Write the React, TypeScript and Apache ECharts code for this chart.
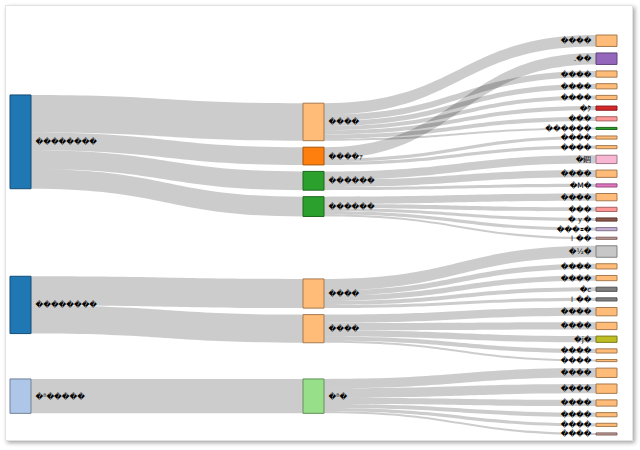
import React, { useEffect, useRef } from "react";
import * as echarts from "echarts";

// Node ids (unique), their displayed labels and colours
const nodeIds = [
  "L1", "L2", "L3",
  "M1", "M2", "M3", "M4", "M5", "M6", "M7",
  "R1", "R2", "R3", "R4", "R5", "R6", "R7", "R8", "R9", "R10",
  "R11", "R12", "R13", "R14", "R15", "R16", "R17", "R18",
  "R19", "R20", "R21", "R22", "R23", "R24", "R25", "R26", "R27", "R28",
  "R29", "R30", "R31", "R32", "R33", "R34",
];

const nodeLabels = [
  "��������", "��������", "�ᴮ�����",
  "����", "����ｧ", "������", "������", "����", "����", "�ᴮ�",
  "����", ".��", "����", "������", "����", "����", "�ｸ", "���", "����", "����",
  "����", "�錮", "�M�", "����", "���", "�ｙ�", "���ｪ�", "ｌ��",
  "�½�", "����", "����", "�c", "ｌ��", "����", "����", "�j�", "����", "����",
  "����", "����", "����", "����", "����", "����",
];

const nodeColors = [
  "#1f77b4", "#1f77b4", "#aec7e8",
  "#ffbb78", "#ff7f0e", "#2ca02c", "#2ca02c", "#ffbb78", "#ffbb78", "#98df8a",
  "#ffbb78", "#9467bd", "#ffbb78", "#2ca02c", "#ffbb78", "#ffbb78", "#d62728", "#ff9896", "#ffbb78", "#ffbb78",
  "#ffbb78", "#f7b6d2", "#e377c2", "#ffbb78", "#ff9896", "#8c564b", "#c5b0d5", "#c49c94",
  "#c7c7c7", "#ffbb78", "#ffbb78", "#7f7f7f", "#7f7f7f", "#ffbb78", "#ffbb78", "#bcbd22", "#ffbb78", "#ffbb78",
  "#ffbb78", "#ffbb78", "#ffbb78", "#ffbb78", "#ffbb78", "#c49c94",
];

// Links
const linkSources = [
  "L1", "L1", "L1", "L1",
  "L2", "L2",
  "L3",
  "M1", "M1", "M1", "M1", "M1", "M1", "M1",
  "M2", "M2", "M2",
  "M3", "M3", "M3",
  "M4", "M4", "M4", "M4", "M4",
  "M5", "M5", "M5", "M5", "M5",
  "M6", "M6", "M6", "M6", "M6",
  "M7", "M7", "M7", "M7", "M7", "M7",
];
const linkTargets = [
  "M1", "M2", "M3", "M4",
  "M5", "M6",
  "M7",
  "R1", "R3", "R4", "R5", "R6", "R7", "R8",
  "R2", "R9", "R10",
  "R11", "R12", "R13",
  "R14", "R15", "R16", "R17", "R18",
  "R19", "R20", "R21", "R22", "R23",
  "R24", "R25", "R26", "R27", "R28",
  "R29", "R30", "R31", "R32", "R33", "R34",
];
const linkValues = [
  36, 17, 18, 19,
  28, 27,
  33,
  11, 4, 2, 5, 6, 4, 4,
  11, 3, 3,
  7, 8, 3,
  7, 4, 3, 3, 2,
  11, 5, 5, 4, 3,
  8, 7, 6, 4, 2,
  9, 9, 6, 4, 3, 2,
];

function darken(hex: string, k: number): string {
  const n = parseInt(hex.slice(1), 16);
  const r = Math.round(((n >> 16) & 255) * k);
  const g = Math.round(((n >> 8) & 255) * k);
  const b = Math.round((n & 255) * k);
  return "rgb(" + r + "," + g + "," + b + ")";
}

export default function App() {
  const ref = useRef<HTMLDivElement>(null);
  useEffect(() => {
    if (!ref.current) return;
    const chart = echarts.init(ref.current, undefined, { renderer: "svg" });
    const nodes = nodeIds.map((id, i) => ({
      name: id,
      itemStyle: {
        color: nodeColors[i],
        borderColor: darken(nodeColors[i], 0.65),
        borderWidth: 1,
      },
      label: { position: id.startsWith("R") ? "left" : "right" },
    }));
    const links = linkSources.map((s, i) => ({
      source: s,
      target: linkTargets[i],
      value: linkValues[i],
    }));
    chart.setOption({
      animation: false,
      backgroundColor: "#fff",
      graphic: [
        {
          type: "rect",
          left: 5,
          top: 5,
          z: -10,
          shape: { width: 627, height: 435 },
          style: {
            fill: "#fff",
            stroke: "#e2e2e2",
            lineWidth: 1,
            shadowBlur: 4,
            shadowOffsetX: 2,
            shadowOffsetY: 2,
            shadowColor: "rgba(0,0,0,0.35)",
          },
          silent: true,
        },
      ],
      series: [
        {
          type: "sankey",
          left: 10,
          right: 23,
          top: 35,
          bottom: 15,
          nodeWidth: 21,
          nodeGap: 6.5,
          layoutIterations: 64,
          draggable: false,
          emphasis: { disabled: true },
          data: nodes,
          links: links,
          lineStyle: { color: "#000", opacity: 0.2, curveness: 0.5 },
          label: {
            fontSize: 7.5,
            color: "#000",
            fontFamily: "DejaVu Sans",
            distance: 4,
            formatter: (p: any) => nodeLabels[p.dataIndex],
          },
        },
      ],
    });
    return () => chart.dispose();
  }, []);
  return (
    <div
      ref={ref}
      style={{ position: "fixed", left: 0, top: 0, width: 640, height: 450 }}
    />
  );
}
